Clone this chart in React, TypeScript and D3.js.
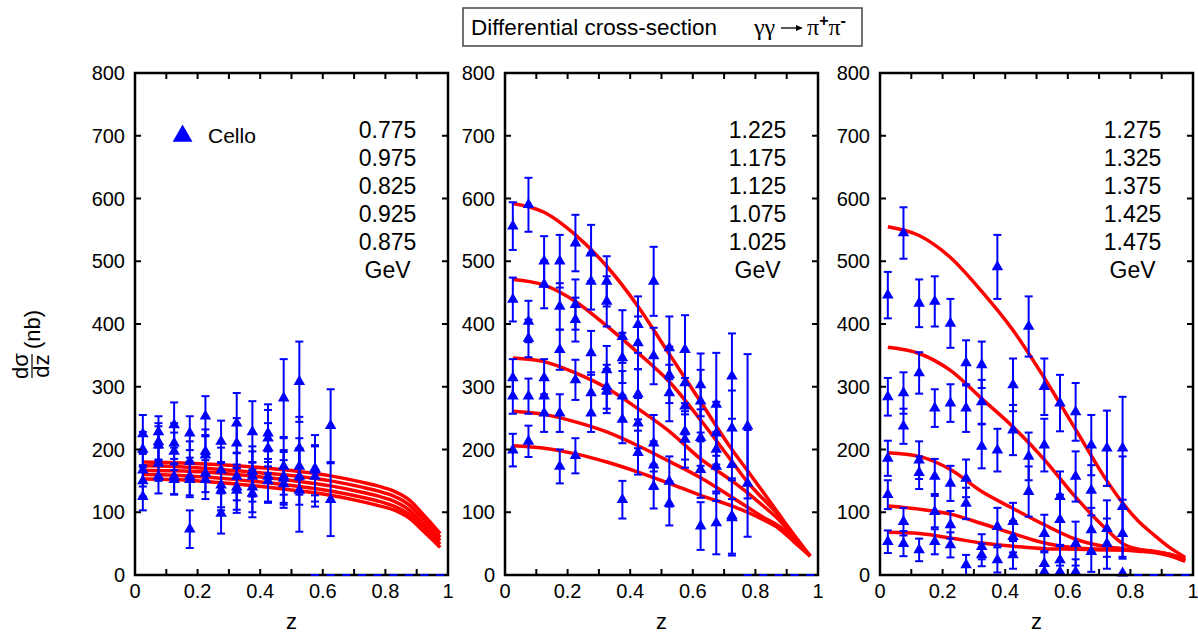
import React from 'react';
import * as d3 from 'd3';

// ---------- data ----------
const zBinsP1 = [0.025, 0.075, 0.125, 0.175, 0.225, 0.275, 0.325, 0.375, 0.425, 0.475, 0.525, 0.575, 0.625];
const zBins = [0.025, 0.075, 0.125, 0.175, 0.225, 0.275, 0.325, 0.375, 0.425, 0.475, 0.525, 0.575, 0.625, 0.675, 0.725, 0.775];
const curveZ = [0.025, 0.125, 0.225, 0.325, 0.425, 0.525, 0.625, 0.725, 0.775, 0.825, 0.875, 0.925, 0.975];

const yTicks = [0, 100, 200, 300, 400, 500, 600, 700, 800];
const xMinorTicks = [0, 0.1, 0.2, 0.3, 0.4, 0.5, 0.6, 0.7, 0.8, 0.9, 1];
const xTickLabels = [0, 0.2, 0.4, 0.6, 0.8, 1];

// Panel 1 (0.775 - 0.975 GeV)
const p1Labels = ['0.775', '0.975', '0.825', '0.925', '0.875', 'GeV'];
const p1Values: (number | null)[][] = [
  [225, 228, 239, 226, 253, 213, 242, 228, 226, 282, 308, 170, 238],
  [200, 212, 210, 181, 197, 167, 210, 165, 218, 173, 202, 167, null],
  [167, 207, 197, 157, 191, 143, 157, 157, 202, 157, 173, 157, null],
  [150, 178, 157, 152, 162, 135, 135, 130, 157, 154, 157, null, 120],
  [125, 157, 152, 73, 152, 98, 140, 140, 150, 145, 135, null, null],
];
const p1Errors: number[][] = [
  [30, 25, 36, 27, 32, 33, 48, 49, 46, 62, 64, 53, 58],
  [28, 30, 32, 32, 35, 36, 40, 40, 45, 45, 50, 40, 0],
  [26, 30, 30, 30, 32, 35, 38, 40, 40, 42, 45, 48, 0],
  [25, 28, 28, 28, 30, 32, 36, 38, 40, 42, 45, 0, 58],
  [22, 27, 24, 30, 31, 32, 36, 40, 35, 38, 66, 0, 0],
];
const p1Curves = [
  [180, 179, 177, 174, 170, 165, 158, 148, 142, 134, 120, 94, 66],
  [174, 173, 170, 166, 162, 157, 150, 140, 134, 126, 112, 87, 60],
  [167, 166, 164, 160, 155, 149, 142, 132, 126, 118, 104, 80, 55],
  [160, 159, 156, 152, 147, 141, 134, 124, 118, 110, 97, 74, 49],
  [153, 152, 149, 145, 140, 134, 127, 117, 111, 104, 91, 68, 44],
];
const p1Zero = [0.575, 0.625, 0.675, 0.725, 0.775, 0.825, 0.875, 0.925, 0.975];

// Panel 2 (1.025 - 1.225 GeV)
const p2Labels = ['1.225', '1.175', '1.125', '1.075', '1.025', 'GeV'];
const p2Values: (number | null)[][] = [
  [556, 590, 500, 500, 529, 513, 468, 380, 399, 468, 362, 359, 303, 272, 317, 237],
  [439, 404, 463, 428, 431, 468, 436, 346, 370, 349, 319, 306, 277, 226, 234, 146],
  [314, 377, 314, 359, 407, 354, 327, 285, 288, 210, 290, 269, 219, 200, 176, null],
  [285, 285, 285, 258, 311, 290, 300, 248, 242, 175, 149, 229, 168, 173, 94, null],
  [199, 213, 258, 173, 190, 258, 293, 120, 195, 141, 114, 216, 78, 83, 91, null],
];
const p2Errors: number[][] = [
  [38, 43, 40, 42, 45, 45, 40, 42, 45, 55, 50, 55, 50, 82, 68, 115],
  [35, 33, 38, 37, 40, 45, 40, 40, 42, 45, 45, 50, 50, 50, 60, 85],
  [30, 30, 30, 32, 35, 35, 38, 40, 40, 45, 45, 45, 45, 70, 55, 0],
  [28, 28, 28, 30, 32, 33, 35, 38, 40, 38, 40, 45, 45, 55, 60, 0],
  [26, 25, 30, 27, 28, 30, 35, 30, 35, 35, 35, 45, 38, 50, 60, 0],
];
const p2Curves = [
  [592, 578, 542, 492, 428, 352, 276, 200, 166, 132, 97, 62, 30],
  [471, 462, 436, 397, 354, 308, 247, 181, 148, 121, 95, 63, 30],
  [346, 340, 322, 298, 265, 229, 185, 150, 131, 110, 88, 58, 30],
  [261, 256, 244, 228, 206, 181, 155, 124, 108, 92, 78, 55, 30],
  [206, 202, 193, 180, 164, 146, 127, 110, 100, 88, 74, 52, 30],
];
const p2Zero = [0.775, 0.825, 0.875, 0.925, 0.975];

// Panel 3 (1.275 - 1.475 GeV)
const p3Labels = ['1.275', '1.325', '1.375', '1.425', '1.475', 'GeV'];
const p3Values: (number | null)[][] = [
  [446, 545, 433, 436, 401, 338, 335, 491, 303, 396, 300, 274, 260, 207, 202, 202],
  [284, 290, 322, 266, 274, 266, 276, 199, 231, 189, 207, 125, 157, 135, 74, 109],
  [186, 237, 183, 157, 146, 154, 205, 77, 85, 133, 66, 88, 50, 72, 50, 66],
  [128, 85, 163, 101, 80, 114, 45, 24, 61, null, 18, 24, 5, 37, null, 3],
  [53, 50, 40, 53, 48, 16, 32, null, 32, null, 5, 5, null, null, null, null],
];
const p3Errors: number[][] = [
  [37, 41, 38, 40, 39, 36, 37, 51, 42, 48, 45, 45, 46, 48, 60, 82],
  [30, 33, 33, 30, 30, 38, 35, 34, 40, 38, 42, 40, 40, 40, 45, 80],
  [28, 28, 30, 28, 28, 30, 35, 30, 30, 40, 30, 40, 35, 35, 40, 40],
  [23, 22, 26, 25, 22, 25, 20, 20, 25, 0, 20, 22, 20, 32, 0, 0],
  [18, 20, 18, 20, 20, 16, 18, 0, 22, 0, 10, 10, 0, 0, 0, 0],
];
const p3Curves = [
  [555, 541, 506, 452, 390, 314, 232, 150, 115, 86, 64, 44, 28],
  [363, 353, 326, 281, 236, 184, 124, 72, 50, 41, 37, 33, 25],
  [195, 189, 168, 133, 106, 80, 57, 45, 42, 40, 38, 33, 24],
  [110, 105, 97, 82, 66, 51, 43, 41, 40, 38, 36, 31, 22],
  [68, 66, 59, 51, 46, 42, 41, 40, 40, 39, 37, 31, 22],
];
const p3Zero = [0.825, 0.875, 0.925, 0.975];

// ---------- layout ----------
const W = 1198;
const H = 634;
const TOP = 73;
const BOTTOM = 575;
const FONT = "'Liberation Sans', Arial, Helvetica, sans-serif";
const SERIF = "'Liberation Serif', 'Times New Roman', serif";
const BLUE = '#0000ff';
const RED = '#ff0000';

const panels = [
  { x0: 135, x1: 448, z: zBinsP1, values: p1Values, errors: p1Errors, curves: p1Curves, zeros: p1Zero, labels: p1Labels, legend: true },
  { x0: 505, x1: 818, z: zBins, values: p2Values, errors: p2Errors, curves: p2Curves, zeros: p2Zero, labels: p2Labels, legend: false },
  { x0: 880, x1: 1193, z: zBins, values: p3Values, errors: p3Errors, curves: p3Curves, zeros: p3Zero, labels: p3Labels, legend: false },
];

const triSmall = d3.symbol(d3.symbolTriangle, 58)() as string;
const triBig = d3.symbol(d3.symbolTriangle, 170)() as string;

function Panel({ p }: { p: typeof panels[number] }) {
  const x = d3.scaleLinear().domain([0, 1]).range([p.x0, p.x1]);
  const y = d3.scaleLinear().domain([0, 800]).range([BOTTOM, TOP]);
  const line = d3
    .line<number>()
    .x((_, i) => x(curveZ[i]))
    .y((d) => y(d))
    .curve(d3.curveMonotoneX);

  const marks: JSX.Element[] = [];
  p.values.forEach((series, si) => {
    series.forEach((v, i) => {
      if (v == null) return;
      const e = p.errors[si][i];
      const cx = x(p.z[i]);
      const top = y(Math.min(800, v + e));
      const bot = y(Math.max(0, v - e));
      if (e > 0) {
        marks.push(
          <g key={`e${si}-${i}`} stroke={BLUE} strokeWidth={2}>
            <line x1={cx} x2={cx} y1={top} y2={bot} />
            <line x1={cx - 4} x2={cx + 4} y1={top} y2={top} />
            <line x1={cx - 4} x2={cx + 4} y1={bot} y2={bot} />
          </g>
        );
      }
      marks.push(<path key={`t${si}-${i}`} d={triSmall} transform={`translate(${cx},${y(v)})`} fill={BLUE} />);
    });
  });

  const cx = x(0.807);

  return (
    <g>
      {p.curves.map((c, i) => (
        <path key={`c${i}`} d={line(c) as string} fill="none" stroke={RED} strokeWidth={3.5} strokeLinejoin="round" />
      ))}
      {marks}
      <rect x={p.x0} y={TOP} width={p.x1 - p.x0} height={BOTTOM - TOP} fill="none" stroke="#000" strokeWidth={2.5} />
      {xMinorTicks.map((t) => (
        <g key={`xt${t}`} stroke="#000" strokeWidth={2}>
          <line x1={x(t)} x2={x(t)} y1={BOTTOM} y2={BOTTOM - 6} />
          <line x1={x(t)} x2={x(t)} y1={TOP} y2={TOP + 6} />
        </g>
      ))}
      {yTicks.map((t) => (
        <g key={`yt${t}`} stroke="#000" strokeWidth={2}>
          <line x1={p.x0} x2={p.x0 + 6} y1={y(t)} y2={y(t)} />
          <line x1={p.x1} x2={p.x1 - 6} y1={y(t)} y2={y(t)} />
        </g>
      ))}
      {p.zeros.map((z) => (
        <line key={`z${z}`} x1={x(z) - 4} x2={x(z) + 4} y1={BOTTOM} y2={BOTTOM} stroke={BLUE} strokeWidth={2} />
      ))}
      {yTicks.map((t) => (
        <text key={`yl${t}`} x={p.x0 - 10} y={y(t)} dy="0.35em" textAnchor="end" fontSize={20} fontFamily={FONT}>
          {t}
        </text>
      ))}
      {xTickLabels.map((t) => (
        <text key={`xl${t}`} x={x(t)} y={598} textAnchor="middle" fontSize={20} fontFamily={FONT}>
          {t}
        </text>
      ))}
      <text x={(p.x0 + p.x1) / 2} y={629} textAnchor="middle" fontSize={22} fontFamily={FONT}>
        z
      </text>
      {p.labels.map((l, i) => (
        <text key={`el${i}`} x={cx} y={138 + 28 * i} textAnchor="middle" fontSize={23} fontFamily={FONT}>
          {l}
        </text>
      ))}
      {p.legend && (
        <g>
          <path d={triBig} transform={`translate(${x(0.152)},${136})`} fill={BLUE} />
          <text x={208} y={143} fontSize={21} fontFamily={FONT}>
            Cello
          </text>
        </g>
      )}
    </g>
  );
}

export default function App() {
  return (
    <svg
      width={W}
      height={H}
      viewBox={`0 0 ${W} ${H}`}
      style={{ position: 'absolute', left: 0, top: 0, background: '#fff' }}
    >
      <rect x={0} y={0} width={W} height={H} fill="#fff" />
      {/* title box */}
      <rect x={463} y={8} width={399} height={38} fill="#fff" stroke="#444" strokeWidth={1.5} />
      <text x={471} y={35} fontSize={22.5} fontFamily={FONT}>
        Differential cross-section
      </text>
      <text x={754} y={35} fontSize={24} fontFamily={SERIF}>
        γγ
      </text>
      {/* arrow */}
      <line x1={781} x2={800} y1={28} y2={28} stroke="#000" strokeWidth={1.3} />
      <path d="M803,28 L796,25 L796,31 Z" fill="#000" />
      <text x={807} y={35} fontSize={24} fontFamily={SERIF}>
        π<tspan dy={-9} fontSize={16} fontFamily={FONT} fontWeight="bold">+</tspan>
        <tspan dy={9}>π</tspan>
        <tspan dy={-9} fontSize={16} fontFamily={FONT} fontWeight="bold">-</tspan>
      </text>
      {/* y-axis label */}
      <g transform="translate(32,366) rotate(-90)" fontFamily={FONT} fontSize={22}>
        <text x={0} y={-4} textAnchor="middle">dσ</text>
        <line x1={-12} x2={12} y1={0} y2={0} stroke="#000" strokeWidth={1.2} />
        <text x={0} y={17} textAnchor="middle">dz</text>
        <text x={17} y={8}>(nb)</text>
      </g>
      {panels.map((p, i) => (
        <Panel key={i} p={p} />
      ))}
    </svg>
  );
}
